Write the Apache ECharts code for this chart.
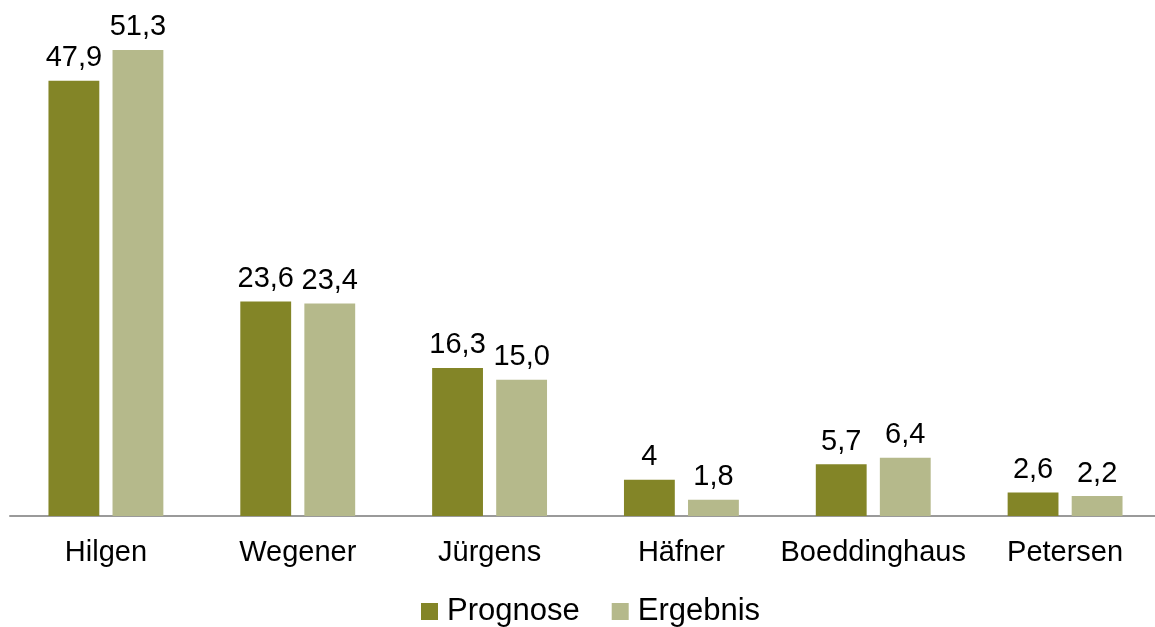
<!DOCTYPE html>
<html><head><meta charset="utf-8">
<script src="https://cdn.jsdelivr.net/npm/echarts@6/dist/echarts.min.js"></script>
<style>html,body{margin:0;padding:0;background:#fff;overflow:hidden}#c{width:1161px;height:627px}</style>
</head><body><div id="c"></div>
<script>
const categories = ['Hilgen','Wegener','Jürgens','Häfner','Boeddinghaus','Petersen'];
const prognose = [47.9, 23.6, 16.3, 4, 5.7, 2.6];
const prognoseLabels = ['47,9','23,6','16,3','4','5,7','2,6'];
const ergebnis = [51.3, 23.4, 15.0, 1.8, 6.4, 2.2];
const ergebnisLabels = ['51,3','23,4','15,0','1,8','6,4','2,2'];

const FONT = '"Liberation Sans", Arial, sans-serif';
const chart = echarts.init(document.getElementById('c'));
chart.setOption({
  animation: false,
  textStyle: {fontFamily: FONT},
  grid: {left: 10, right: 0, top: 0, bottom: 111, containLabel: false},
  legend: {
    bottom: -5, left: 416, itemWidth: 17, itemHeight: 17, itemGap: 32,
    icon: 'rect',
    textStyle: {fontFamily: FONT, fontSize: 31, color: '#000', padding: [0, 0, 0, 4]},
    data: ['Prognose','Ergebnis']
  },
  xAxis: {
    type: 'category', data: categories,
    axisTick: {show: false},
    axisLine: {lineStyle: {color: '#9a9a9a', width: 2}},
    axisLabel: {fontFamily: FONT, fontSize: 29, color: '#000', margin: 22, interval: 0}
  },
  yAxis: {type: 'value', min: 0, max: 56.8, show: false, splitLine: {show: false}},
  series: [
    {name: 'Prognose', type: 'bar', data: prognose, barWidth: '26.5%', barGap: '26%',
     itemStyle: {color: '#838527'},
     label: {show: true, position: 'top', distance: 8, fontFamily: FONT, fontSize: 29, color: '#000',
       formatter: p => prognoseLabels[p.dataIndex]}},
    {name: 'Ergebnis', type: 'bar', data: ergebnis, barWidth: '26.5%',
     itemStyle: {color: '#b5b98b'},
     label: {show: true, position: 'top', distance: 8, fontFamily: FONT, fontSize: 29, color: '#000',
       formatter: p => ergebnisLabels[p.dataIndex]}}
  ]
});
</script></body></html>
